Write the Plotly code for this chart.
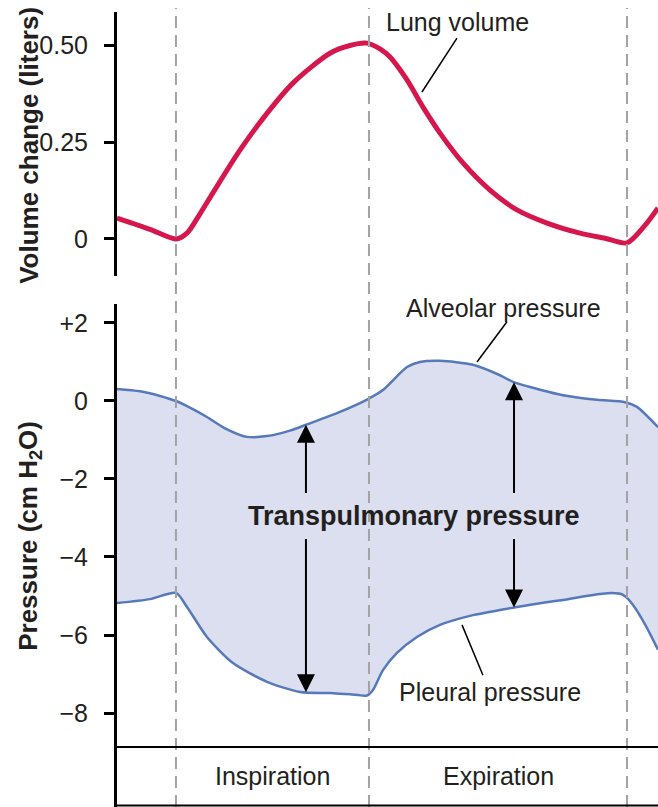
import numpy as np
import plotly.graph_objects as go

# ---------------- data (time in s) ----------------
vol_t = [-0.611, -0.269, 0.0, 0.114, 0.249, 0.383, 0.663, 0.943, 1.212, 1.596, 1.803, 1.979,
         2.114, 2.218, 2.394, 2.560, 2.736, 2.974, 3.254, 3.534, 3.845, 4.187, 4.446, 4.674,
         4.860, 4.995]
vol_l = [0.054, 0.025, 0.0, 0.015, 0.065, 0.119, 0.229, 0.324, 0.402, 0.479, 0.499, 0.505,
         0.490, 0.469, 0.410, 0.340, 0.273, 0.196, 0.126, 0.075, 0.041, 0.015, 0.002, -0.010,
         0.035, 0.080]

alv_t = [-0.611, -0.373, -0.166, 0.0, 0.145, 0.321, 0.508, 0.736, 0.943, 1.181, 1.358, 1.699,
         1.990, 2.145, 2.394, 2.528, 2.736, 3.078, 3.358, 3.492, 3.772, 4.010, 4.363, 4.653,
         4.777, 4.995]
alv_p = [0.31, 0.25, 0.13, 0.0, -0.17, -0.41, -0.70, -0.92, -0.90, -0.76, -0.60, -0.28,
         0.05, 0.28, 0.87, 1.00, 1.03, 0.93, 0.66, 0.49, 0.29, 0.15, 0.03, -0.03,
         -0.15, -0.67]

ple_t = [-0.611, -0.269, 0.0, 0.114, 0.321, 0.591, 0.943, 1.285, 1.596, 1.803, 1.979, 2.041,
         2.145, 2.290, 2.497, 2.736, 3.078, 3.358, 3.534, 4.010, 4.632, 4.995]
ple_p = [-5.18, -5.08, -4.92, -5.28, -6.05, -6.72, -7.20, -7.46, -7.49, -7.52, -7.55, -7.41,
         -6.90, -6.46, -6.05, -5.74, -5.49, -5.36, -5.28, -5.10, -4.97, -6.38]

phase_bounds = [0.0, 2.0, 4.674]
phase_names = ["Inspiration", "Expiration"]

vol_ticks = [0, 0.25, 0.5]
vol_ticktext = ["0", "0.25", "0.50"]
p_ticks = [2, 0, -2, -4, -6, -8]
p_ticktext = ["+2", "0", "\u22122", "\u22124", "\u22126", "\u22128"]

arrow_t = [1.347, 3.503]           # positions of the transpulmonary arrows
arrow_gap = [-2.40, -3.50]         # where the arrows break for the label

# ---------------- styling ----------------
FONT = "Liberation Sans, Arial, sans-serif"
TXT = "#231f20"
RED = "#d6174d"
BLUE = "#5679ba"
FILL = "#dcdff0"

fig = go.Figure()

fig.add_trace(go.Scatter(x=ple_t, y=ple_p, mode="lines", line=dict(color=BLUE, width=2.5, shape="spline", smoothing=0.7),
                         xaxis="x", yaxis="y", hoverinfo="skip", showlegend=False))
fig.add_trace(go.Scatter(x=alv_t, y=alv_p, mode="lines", line=dict(color=BLUE, width=2.5, shape="spline", smoothing=0.7),
                         fill="tonexty", fillcolor=FILL,
                         xaxis="x", yaxis="y", hoverinfo="skip", showlegend=False))
fig.add_trace(go.Scatter(x=vol_t, y=vol_l, mode="lines", line=dict(color=RED, width=5, shape="spline", smoothing=0.8),
                         xaxis="x", yaxis="y2", hoverinfo="skip", showlegend=False))

shapes = []
# dashed phase boundaries
for b in phase_bounds:
    shapes.append(dict(type="line", xref="x", yref="paper", x0=b, x1=b, y0=0, y1=0.99,
                       line=dict(color="#a3a3a3", width=2, dash="12px,7px"), layer="above"))
# baseline separating phase labels, and bottom line
shapes.append(dict(type="line", xref="paper", yref="y", x0=0, x1=1, y0=-8.87, y1=-8.87,
                   line=dict(color="black", width=2)))
shapes.append(dict(type="line", xref="paper", yref="paper", x0=0, x1=1, y0=0.002, y1=0.002,
                   line=dict(color="black", width=2)))
# leader lines for labels
shapes.append(dict(type="line", xref="x", yref="y2", x0=2.912, y0=0.518, x1=2.549, y1=0.379,
                   line=dict(color="black", width=1.5)))
shapes.append(dict(type="line", xref="x", yref="y", x0=3.430, y0=2.03, x1=3.119, y1=1.00,
                   line=dict(color="black", width=1.5)))
shapes.append(dict(type="line", xref="x", yref="y", x0=3.181, y0=-7.03, x1=2.964, y1=-5.74,
                   line=dict(color="black", width=1.5)))

ann = []
# transpulmonary arrows, tips on the curves
for at in arrow_t:
    top = float(np.interp(at, alv_t, alv_p))
    bot = float(np.interp(at, ple_t, ple_p))
    ann.append(dict(x=at, y=top, ax=at, ay=arrow_gap[0], xref="x", yref="y", axref="x", ayref="y",
                    text="", showarrow=True, arrowhead=2, arrowsize=1.8, arrowwidth=2,
                    arrowcolor="black", standoff=0))
    ann.append(dict(x=at, y=bot, ax=at, ay=arrow_gap[1], xref="x", yref="y", axref="x", ayref="y",
                    text="", showarrow=True, arrowhead=2, arrowsize=1.8, arrowwidth=2,
                    arrowcolor="black", standoff=0))

ann.append(dict(x=2.47, y=-2.95, xref="x", yref="y", text="<b>Transpulmonary pressure</b>",
                showarrow=False, font=dict(family=FONT, size=27, color=TXT), xanchor="center", yanchor="middle"))
ann.append(dict(x=2.922, y=0.559, xref="x", yref="y2", text="Lung volume",
                showarrow=False, font=dict(family=FONT, size=25, color=TXT), xanchor="center", yanchor="middle"))
ann.append(dict(x=3.389, y=2.38, xref="x", yref="y", text="Alveolar pressure",
                showarrow=False, font=dict(family=FONT, size=25, color=TXT), xanchor="center", yanchor="middle"))
ann.append(dict(x=3.255, y=-7.45, xref="x", yref="y", text="Pleural pressure",
                showarrow=False, font=dict(family=FONT, size=25, color=TXT), xanchor="center", yanchor="middle"))
for i, name in enumerate(phase_names):
    mid = (phase_bounds[i] + phase_bounds[i + 1]) / 2
    ann.append(dict(x=mid, y=-9.62, xref="x", yref="y", text=name,
                    showarrow=False, font=dict(family=FONT, size=25, color=TXT), xanchor="center", yanchor="middle"))
# axis titles
ann.append(dict(x=-0.163, y=0.8203, xref="paper", yref="paper", text="<b>Volume change (liters)</b>",
                textangle=-90, showarrow=False, font=dict(family=FONT, size=26, color=TXT),
                xanchor="center", yanchor="middle"))
ann.append(dict(x=-0.163, y=0.3358, xref="paper", yref="paper", text="<b>Pressure (cm H<sub>2</sub>O)</b>",
                textangle=-90, showarrow=False, font=dict(family=FONT, size=26, color=TXT),
                xanchor="center", yanchor="middle"))

axis_common = dict(showline=True, linecolor="black", linewidth=3, ticks="outside", ticklen=10,
                   tickwidth=3, tickcolor="black", showgrid=False, zeroline=False,
                   tickfont=dict(family=FONT, size=25, color=TXT), ticklabelstandoff=11,
                   fixedrange=True, anchor="x")

fig.update_layout(
    width=658, height=807,
    margin=dict(l=117, r=0, t=0, b=0),
    paper_bgcolor="white", plot_bgcolor="rgba(0,0,0,0)",
    xaxis=dict(domain=[0, 1], range=[-0.611, 4.995], visible=False, fixedrange=True, anchor="y"),
    yaxis=dict(domain=[0, 0.6233], range=[-10.41, 2.487], tickvals=p_ticks, ticktext=p_ticktext, **axis_common),
    yaxis2=dict(domain=[0.658, 0.985], range=[-0.0954, 0.585], tickvals=vol_ticks, ticktext=vol_ticktext, **axis_common),
    shapes=shapes, annotations=ann, showlegend=False,
    font=dict(family=FONT, color=TXT),
)

fig.write_html("out.html", config={"displayModeBar": False},
               post_script="document.body.style.margin='0';document.body.style.overflow='hidden';")
